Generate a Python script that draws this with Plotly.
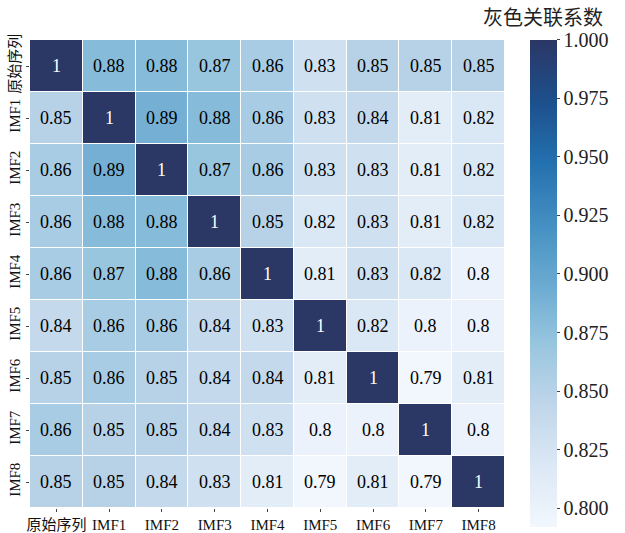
import plotly.graph_objects as go

labels = ["原始序列", "IMF1", "IMF2", "IMF3", "IMF4", "IMF5", "IMF6", "IMF7", "IMF8"]

row_orig = [1, 0.88, 0.88, 0.87, 0.86, 0.83, 0.85, 0.85, 0.85]
row_imf1 = [0.85, 1, 0.89, 0.88, 0.86, 0.83, 0.84, 0.81, 0.82]
row_imf2 = [0.86, 0.89, 1, 0.87, 0.86, 0.83, 0.83, 0.81, 0.82]
row_imf3 = [0.86, 0.88, 0.88, 1, 0.85, 0.82, 0.83, 0.81, 0.82]
row_imf4 = [0.86, 0.87, 0.88, 0.86, 1, 0.81, 0.83, 0.82, 0.8]
row_imf5 = [0.84, 0.86, 0.86, 0.84, 0.83, 1, 0.82, 0.8, 0.8]
row_imf6 = [0.85, 0.86, 0.85, 0.84, 0.84, 0.81, 1, 0.79, 0.81]
row_imf7 = [0.86, 0.85, 0.85, 0.84, 0.83, 0.8, 0.8, 1, 0.8]
row_imf8 = [0.85, 0.85, 0.84, 0.83, 0.81, 0.79, 0.81, 0.79, 1]

z = [row_orig, row_imf1, row_imf2, row_imf3, row_imf4,
     row_imf5, row_imf6, row_imf7, row_imf8]

cbar_ticks = [0.800, 0.825, 0.850, 0.875, 0.900, 0.925, 0.950, 0.975, 1.000]
cbar_title = "灰色关联系数"

colorscale = [
    [0.0, "#f1f7fd"],
    [0.125, "#dce8f5"],
    [0.25, "#c0d6ea"],
    [0.375, "#98c6df"],
    [0.5, "#6aaad1"],
    [0.625, "#438fc2"],
    [0.75, "#2370ae"],
    [0.875, "#1d4f8c"],
    [1.0, "#2b3765"],
]

serif = "Liberation Serif, Times New Roman, Noto Sans CJK SC, serif"

fig = go.Figure(go.Heatmap(
    z=z, x=labels, y=labels,
    colorscale=colorscale, zmin=0.792, zmax=1.0,
    xgap=1, ygap=1,
    colorbar=dict(
        tickvals=cbar_ticks, ticktext=[f"{t:.3f}" for t in cbar_ticks],
        tickfont=dict(family=serif, size=20, color="#222"),
        ticks="outside", ticklen=3, tickcolor="#444",
        thickness=27, lenmode="pixels", len=487,
        x=1.0526, xanchor="left", y=0.48, yanchor="middle",
        outlinewidth=0, xpad=0, ypad=0,
    ),
))

# value labels in each cell: white on the dark diagonal, black elsewhere
for i, row_name in enumerate(labels):
    for j, col_name in enumerate(labels):
        v = z[i][j]
        fig.add_annotation(
            x=col_name, y=row_name, text=f"{v:g}", showarrow=False,
            font=dict(family=serif, size=18,
                      color="white" if v > 0.95 else "black"),
        )

# colour bar heading above the bar
fig.add_annotation(
    text=cbar_title, xref="paper", yref="paper",
    x=1.08, y=1.047, xanchor="center", yanchor="middle",
    showarrow=False, font=dict(family=serif, size=20, color="#222"),
)

fig.update_layout(
    width=625, height=533,
    margin=dict(l=30, r=120, t=40, b=25, autoexpand=False),
    paper_bgcolor="white", plot_bgcolor="white",
    font=dict(family=serif, color="#111"),
)
fig.update_xaxes(ticks="outside", ticklen=3, tickcolor="#444", tickangle=0,
                 tickfont=dict(family=serif, size=15, color="#111"),
                 showgrid=False, zeroline=False, automargin=False)
fig.update_yaxes(ticks="outside", ticklen=3, tickcolor="#444", tickangle=-90,
                 tickfont=dict(family=serif, size=15, color="#111"),
                 autorange="reversed", showgrid=False, zeroline=False,
                 automargin=False)

fig.write_html("out.html")
